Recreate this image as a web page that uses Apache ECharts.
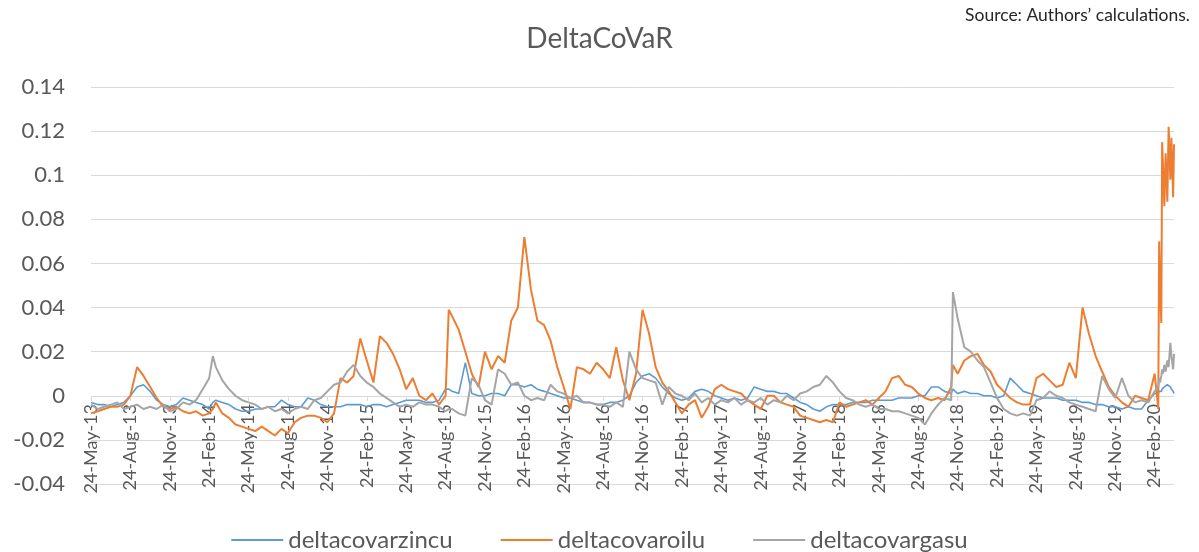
<!DOCTYPE html>
<html>
<head>
<meta charset="utf-8">
<title>DeltaCoVaR</title>
<script src="https://cdn.jsdelivr.net/npm/echarts@6/dist/echarts.min.js"></script>
<style>
  html, body { margin: 0; padding: 0; background: #fff; }
  #main { width: 1199px; height: 552px; }
</style>
</head>
<body>
<div id="main"></div>
<script>
// observation dates (roughly twice a month, denser around the spikes)
var dates = [
  // 2013
  '2013-05-24','2013-06-09','2013-06-24','2013-07-09','2013-07-24','2013-08-09','2013-08-24','2013-09-09','2013-09-24','2013-10-09','2013-10-24','2013-11-09','2013-11-24','2013-12-09','2013-12-24',
  // 2014
  '2014-01-09','2014-01-24','2014-02-09','2014-02-24','2014-03-02','2014-03-09','2014-03-24','2014-04-09','2014-04-24','2014-05-09','2014-05-24','2014-06-09','2014-06-24','2014-07-09','2014-07-24','2014-08-09','2014-08-24','2014-09-09','2014-09-24','2014-10-09','2014-10-24','2014-11-09','2014-11-24','2014-12-09','2014-12-24',
  // 2015
  '2015-01-09','2015-01-24','2015-02-09','2015-02-24','2015-03-09','2015-03-24','2015-04-09','2015-04-24','2015-05-09','2015-05-24','2015-06-09','2015-06-24','2015-07-09','2015-07-24','2015-08-09','2015-08-24','2015-09-01','2015-09-09','2015-09-24','2015-10-09','2015-10-24','2015-11-09','2015-11-24','2015-12-09','2015-12-24',
  // 2016
  '2016-01-09','2016-01-24','2016-02-09','2016-02-24','2016-03-09','2016-03-24','2016-04-09','2016-04-24','2016-05-09','2016-05-24','2016-06-09','2016-06-24','2016-07-09','2016-07-24','2016-08-09','2016-08-24','2016-09-09','2016-09-24','2016-10-09','2016-10-24','2016-11-09','2016-11-24','2016-12-09','2016-12-24',
  // 2017
  '2017-01-09','2017-01-24','2017-02-09','2017-02-24','2017-03-09','2017-03-24','2017-04-09','2017-04-24','2017-05-09','2017-05-24','2017-06-09','2017-06-24','2017-07-09','2017-07-24','2017-08-09','2017-08-24','2017-09-09','2017-09-24','2017-10-09','2017-10-24','2017-11-09','2017-11-24','2017-12-09','2017-12-24',
  // 2018
  '2018-01-09','2018-01-24','2018-02-09','2018-02-24','2018-03-09','2018-03-24','2018-04-09','2018-04-24','2018-05-09','2018-05-24','2018-06-09','2018-06-24','2018-07-09','2018-07-24','2018-08-09','2018-08-24','2018-09-09','2018-09-24','2018-10-09','2018-10-24','2018-11-09','2018-11-13','2018-11-24','2018-12-09','2018-12-24',
  // 2019
  '2019-01-09','2019-01-24','2019-02-09','2019-02-24','2019-03-09','2019-03-24','2019-04-09','2019-04-24','2019-05-09','2019-05-24','2019-06-09','2019-06-24','2019-07-09','2019-07-24','2019-08-09','2019-08-24','2019-09-09','2019-09-24','2019-10-09','2019-10-24','2019-11-09','2019-11-24','2019-12-09','2019-12-24',
  // 2020
  '2020-01-09','2020-01-24','2020-02-09','2020-02-24','2020-03-02','2020-03-04','2020-03-06','2020-03-09','2020-03-11','2020-03-13','2020-03-16','2020-03-19','2020-03-23','2020-03-26','2020-03-30','2020-04-02','2020-04-06','2020-04-08'
];

var zinc = [
  -0.003,-0.004,-0.004,-0.005,-0.004,-0.003,0.000,0.004,0.005,0.002,-0.002,-0.004,-0.005,-0.004,-0.001,
  -0.002,-0.003,-0.004,-0.006,-0.003,-0.002,-0.003,-0.004,-0.006,-0.007,-0.007,-0.006,-0.006,-0.005,-0.005,-0.002,-0.004,-0.005,-0.005,-0.001,-0.002,-0.004,-0.005,-0.005,-0.005,
  -0.004,-0.004,-0.004,-0.005,-0.004,-0.004,-0.005,-0.004,-0.003,-0.002,-0.002,-0.002,-0.003,-0.003,-0.002,0.003,0.003,0.002,0.001,0.015,0.001,0.000,0.000,0.001,0.001,
  0.000,0.005,0.005,0.004,0.005,0.003,0.002,0.001,0.000,-0.001,-0.001,-0.002,-0.003,-0.003,-0.004,-0.004,-0.003,-0.003,-0.002,0.000,0.006,0.009,0.010,0.008,
  0.004,0.001,-0.001,-0.002,-0.001,0.002,0.003,0.002,0.000,-0.001,-0.002,-0.001,-0.002,-0.001,0.004,0.003,0.002,0.002,0.001,0.001,-0.001,-0.003,-0.004,-0.006,
  -0.007,-0.005,-0.004,-0.004,-0.004,-0.003,-0.003,-0.003,-0.002,-0.002,-0.002,-0.002,-0.001,-0.001,-0.001,0.000,0.000,0.004,0.004,0.002,0.001,0.003,0.001,0.002,0.001,
  0.001,0.000,0.000,-0.001,0.000,0.008,0.005,0.002,0.001,0.000,-0.001,-0.001,-0.001,-0.002,-0.002,-0.002,-0.003,-0.003,-0.004,-0.004,-0.005,-0.005,-0.006,-0.005,
  -0.006,-0.006,-0.002,0.001,0.001,0.002,0.002,0.002,0.003,0.003,0.004,0.004,0.005,0.005,0.004,0.003,0.002,0.001
];

var oil = [
  -0.008,-0.007,-0.006,-0.005,-0.005,-0.004,0.000,0.013,0.009,0.004,-0.001,-0.005,-0.006,-0.005,-0.007,
  -0.008,-0.007,-0.009,-0.008,-0.006,-0.003,-0.008,-0.010,-0.013,-0.014,-0.015,-0.016,-0.014,-0.016,-0.018,-0.015,-0.017,-0.012,-0.010,-0.009,-0.009,-0.010,-0.012,-0.008,0.008,
  0.006,0.009,0.026,0.016,0.006,0.027,0.024,0.019,0.012,0.003,0.008,0.000,-0.002,0.001,-0.004,0.000,0.039,0.036,0.030,0.020,0.010,0.004,0.020,0.012,0.018,
  0.015,0.034,0.040,0.072,0.048,0.034,0.032,0.025,0.013,0.004,-0.006,0.013,0.012,0.010,0.015,0.012,0.008,0.022,0.007,-0.002,0.010,0.039,0.028,0.013,
  0.006,0.002,-0.003,-0.008,-0.004,-0.002,-0.010,-0.005,0.003,0.005,0.003,0.002,0.001,-0.002,-0.004,-0.006,0.000,0.000,-0.003,-0.004,-0.005,-0.009,-0.010,-0.011,
  -0.012,-0.011,-0.012,-0.003,-0.005,-0.004,-0.003,-0.002,-0.004,-0.001,0.002,0.008,0.009,0.005,0.004,0.001,-0.001,-0.002,-0.001,-0.002,0.004,0.014,0.010,0.016,0.018,
  0.019,0.014,0.011,0.005,0.002,-0.001,-0.003,-0.004,-0.004,0.008,0.010,0.007,0.004,0.005,0.015,0.008,0.040,0.028,0.018,0.011,0.004,0.000,-0.003,-0.005,
  0.000,-0.001,-0.002,0.010,-0.006,0.070,0.050,0.033,0.115,0.104,0.086,0.110,0.088,0.122,0.098,0.117,0.090,0.114
];

var gas = [
  -0.004,-0.006,-0.005,-0.004,-0.003,-0.006,-0.005,-0.004,-0.006,-0.005,-0.006,-0.004,-0.007,-0.006,-0.003,
  -0.004,-0.002,0.003,0.008,0.018,0.013,0.007,0.003,0.000,-0.002,-0.003,-0.004,-0.006,-0.005,-0.007,-0.006,-0.008,-0.006,-0.005,-0.006,-0.002,-0.001,0.002,0.005,0.006,
  0.011,0.014,0.009,0.006,0.004,0.001,-0.001,-0.003,-0.005,-0.004,-0.005,-0.003,-0.004,-0.004,-0.005,-0.007,-0.006,-0.006,-0.008,-0.009,0.008,0.005,-0.002,-0.004,0.012,
  0.010,0.005,0.006,0.000,-0.002,-0.001,-0.002,0.005,0.002,0.001,-0.001,0.000,-0.003,-0.003,-0.004,-0.004,-0.005,-0.003,-0.005,0.020,0.012,0.008,0.007,0.006,
  -0.004,0.004,0.001,0.000,-0.002,0.001,-0.003,-0.001,-0.004,-0.002,-0.003,-0.001,-0.004,-0.002,-0.003,-0.001,-0.004,-0.002,-0.003,0.000,-0.002,0.001,0.002,0.004,
  0.005,0.009,0.006,0.002,-0.001,-0.002,-0.004,-0.005,-0.004,-0.006,-0.006,-0.007,-0.007,-0.008,-0.009,-0.010,-0.013,-0.008,-0.004,-0.001,-0.002,0.047,0.035,0.022,0.020,
  0.016,0.013,0.006,-0.001,-0.006,-0.008,-0.009,-0.008,-0.009,-0.002,-0.001,0.002,0.000,-0.001,-0.003,-0.004,-0.005,-0.006,-0.007,0.009,0.003,-0.001,0.008,0.000,
  -0.003,-0.002,-0.003,0.002,0.004,0.008,0.006,0.009,0.012,0.010,0.014,0.011,0.016,0.013,0.024,0.018,0.012,0.019
];

var seriesNames = ['deltacovarzincu', 'deltacovaroilu', 'deltacovargasu'];
var monthNames = ['Jan','Feb','Mar','Apr','May','Jun','Jul','Aug','Sep','Oct','Nov','Dec'];

if (zinc.length !== dates.length || oil.length !== dates.length || gas.length !== dates.length) {
  throw new Error('length mismatch ' + dates.length + ' ' + zinc.length + ' ' + oil.length + ' ' + gas.length);
}

// x position in months counted from 24-May-13
function toMonths(s) {
  var p = s.split('-').map(Number);
  return (p[0] - 2013) * 12 + (p[1] - 5) + (p[2] - 24) / 30.44;
}
var xs = dates.map(toMonths);
function pairs(vals) {
  return vals.map(function (v, i) { return [xs[i], v]; });
}

var yMin = -0.04, yMax = 0.14;
var gridTop = 87, gridBottom = 68, chartH = 552;
// the date axis sits on the zero line, as in the spreadsheet chart
var plotH = chartH - gridTop - gridBottom;
var zeroOffset = -Math.round((0 - yMin) / (yMax - yMin) * plotH);

var myChart = echarts.init(document.getElementById('main'));
var font = 'Lato, "Open Sans", sans-serif';

var option = {
  animation: false,
  backgroundColor: '#ffffff',
  title: {
    text: 'DeltaCoVaR',
    left: 'center',
    top: 20,
    textStyle: { fontFamily: font, fontSize: 28, fontWeight: 'normal', color: '#595959' }
  },
  graphic: [{
    type: 'text',
    right: 9,
    top: 6,
    style: { text: 'Source: Authors\u2019 calculations.', font: '17.5px ' + font, fill: '#262626' }
  }],
  legend: {
    data: seriesNames,
    bottom: -5,
    left: 'center',
    icon: 'rect',
    itemWidth: 52,
    itemHeight: 2,
    itemGap: 48,
    textStyle: { fontFamily: font, fontSize: 24, color: '#595959' }
  },
  grid: { left: 91, right: 25, top: gridTop, bottom: gridBottom, containLabel: false, outerBoundsMode: 'none' },
  xAxis: {
    type: 'value',
    min: 0,
    max: xs[xs.length - 1],
    interval: 3,
    position: 'bottom',
    offset: zeroOffset,
    axisLine: { onZero: false, lineStyle: { color: '#d9d9d9', width: 1 } },
    axisTick: { show: true, length: 5, lineStyle: { color: '#d9d9d9' } },
    splitLine: { show: false },
    axisLabel: {
      rotate: 90,
      margin: 8,
      showMaxLabel: false,
      color: '#595959',
      fontFamily: font,
      fontSize: 18,
      formatter: function (v) {
        var k = Math.round(v);
        if (Math.abs(v - k) > 0.01 || k % 3 !== 0) return '';
        var m = 4 + k;
        var yy = 13 + Math.floor(m / 12);
        return '24-' + monthNames[m % 12] + '-' + yy;
      }
    }
  },
  yAxis: {
    type: 'value',
    min: yMin,
    max: yMax,
    interval: 0.02,
    axisLine: { show: false },
    axisTick: { show: false },
    splitLine: { lineStyle: { color: '#d9d9d9', width: 1 } },
    axisLabel: {
      margin: 26,
      color: '#595959',
      fontFamily: font,
      fontSize: 22,
      formatter: function (v) { return String(+v.toFixed(2)); }
    }
  },
  series: [
    {
      name: seriesNames[0], type: 'line', showSymbol: false,
      data: pairs(zinc),
      itemStyle: { color: '#5B9BD5' },
      lineStyle: { color: '#5B9BD5', width: 1.6 }
    },
    {
      name: seriesNames[1], type: 'line', showSymbol: false,
      data: pairs(oil),
      itemStyle: { color: '#ED7D31' },
      lineStyle: { color: '#ED7D31', width: 2 }
    },
    {
      name: seriesNames[2], type: 'line', showSymbol: false,
      data: pairs(gas),
      itemStyle: { color: '#A5A5A5' },
      lineStyle: { color: '#A5A5A5', width: 2 }
    }
  ]
};

myChart.setOption(option);
</script>
</body>
</html>
